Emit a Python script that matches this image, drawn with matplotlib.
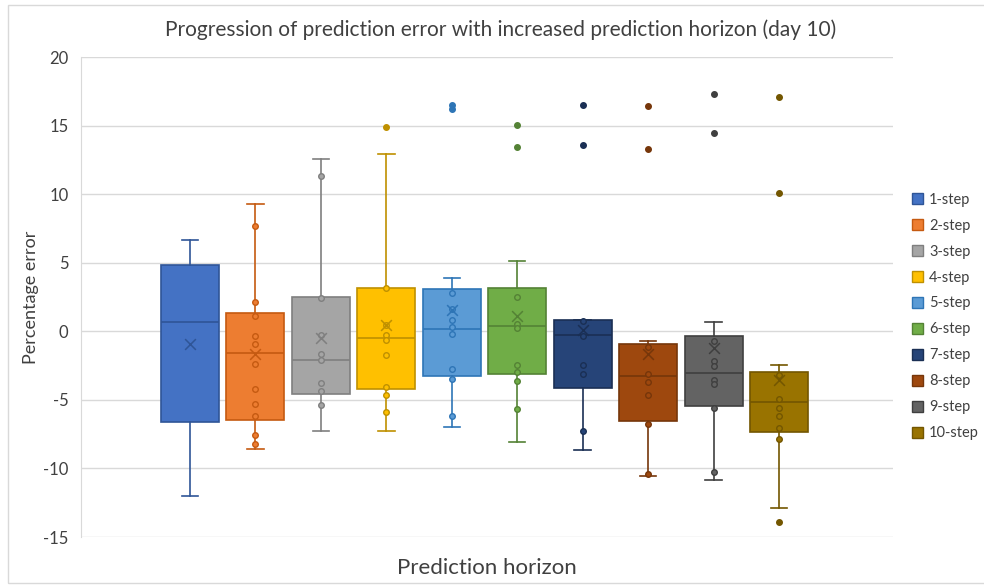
import matplotlib
matplotlib.use('Agg')

import matplotlib.pyplot as plt
from matplotlib.patches import Patch, Rectangle

plt.rcParams['font.family'] = ['Lato', 'DejaVu Sans']
plt.rcParams['axes.unicode_minus'] = False

labels = ['1-step', '2-step', '3-step', '4-step', '5-step',
          '6-step', '7-step', '8-step', '9-step', '10-step']

# box statistics per horizon
q1 = [-6.65, -6.49, -4.54, -4.23, -3.28, -3.11, -4.13, -6.53, -5.44, -7.31]
med = [0.66, -1.60, -2.11, -0.46, 0.17, 0.41, -0.24, -3.28, -3.04, -5.17]
q3 = [4.86, 1.36, 2.50, 3.18, 3.06, 3.13, 0.85, -0.92, -0.34, -2.99]
whislo = [-12.0, -8.58, -7.24, -7.24, -6.97, -8.09, -8.62, -10.57, -10.83, -12.85]
whishi = [6.63, 9.31, 12.59, 12.95, 3.89, 5.10, 0.85, -0.73, 0.70, -2.48]
means = [-0.90, -1.65, -0.49, 0.48, 1.53, 1.09, 0.12, -1.68, -1.21, -3.57]

# individual errors shown as inner points
inner_pts = [
    [],
    [7.65, 2.11, 1.12, -0.34, -0.90, -2.41, -4.23, -5.30, -6.15, -7.53, -8.19],
    [11.35, 2.45, -0.30, -1.63, -2.11, -3.76, -4.37, -5.35],
    [3.13, 0.48, -0.24, -0.60, -1.70, -4.03, -4.66, -5.90],
    [2.82, 1.60, 0.85, 0.31, -0.17, -2.75, -3.47, -6.20],
    [2.50, 0.56, 0.24, -2.43, -2.96, -3.60, -5.66],
    [0.73, -0.36, -2.43, -3.11, -7.26],
    [-1.12, -3.08, -3.67, -4.64, -6.73, -10.42],
    [-0.68, -2.16, -2.50, -3.52, -3.86, -5.61, -10.28],
    [-3.16, -4.91, -5.59, -6.17, -7.07, -7.85],
]

outliers = [
    [],
    [],
    [],
    [14.87],
    [16.47, 16.23],
    [15.04, 13.43],
    [16.52, 13.56],
    [16.42, 13.27],
    [17.30, 14.45],
    [17.06, 10.08, -13.92],
]

fills = ['#4472C4', '#ED7D31', '#A5A5A5', '#FFC000', '#5B9BD5',
         '#70AD47', '#264478', '#9E480E', '#636363', '#997300']
edges = ['#2F5597', '#C55A11', '#7F7F7F', '#BF9000', '#2E75B6',
         '#548235', '#1A2F54', '#76360A', '#3F3F3F', '#735600']

fig = plt.figure(figsize=(9.84, 5.85), dpi=100)
ax = fig.add_axes([81 / 984, 1 - 537 / 585, (893 - 81) / 984, (537 - 57) / 585])

# thin frame round the whole chart
fig.patches.append(Rectangle((8 / 984, 2 / 585), 1.0, 1 - 7 / 585, transform=fig.transFigure,
                             fill=False, edgecolor='#D9D9D9', linewidth=1))

pos = list(range(1, len(labels) + 1))
stats = []
for i in range(len(labels)):
    stats.append({'q1': q1[i], 'med': med[i], 'q3': q3[i],
                  'whislo': whislo[i], 'whishi': whishi[i],
                  'mean': means[i], 'fliers': []})

bp = ax.bxp(stats, positions=pos, widths=0.886, patch_artist=True,
            showmeans=False, showfliers=False, capwidths=0.25)

for i in range(len(labels)):
    bp['boxes'][i].set_facecolor(fills[i])
    bp['boxes'][i].set_edgecolor(edges[i])
    bp['boxes'][i].set_linewidth(1.2)
    bp['boxes'][i].set_zorder(2)
    bp['medians'][i].set_color(edges[i])
    bp['medians'][i].set_linewidth(1.2)
    for ln in bp['whiskers'][2 * i:2 * i + 2] + bp['caps'][2 * i:2 * i + 2]:
        ln.set_color(edges[i])
        ln.set_linewidth(1.2)

    # inner points and outliers
    xs = [pos[i]] * len(inner_pts[i])
    ax.scatter(xs, inner_pts[i], s=16, facecolor=fills[i], edgecolor=edges[i],
               linewidth=1.0, zorder=4)
    xo = [pos[i]] * len(outliers[i])
    ax.scatter(xo, outliers[i], s=16, facecolor=edges[i], edgecolor=edges[i],
               linewidth=1.0, zorder=4)
    # mean marker
    ax.scatter([pos[i]], [means[i]], marker='x', s=60, color=edges[i],
               linewidth=1.1, zorder=5)

ax.set_xlim(-0.666, 11.742)
ax.set_ylim(-15, 20)
ax.set_yticks(range(-15, 21, 5))
ax.set_xticks([])
ax.grid(axis='y', color='#D9D9D9', linewidth=1)
ax.set_axisbelow(True)
for side in ['top', 'right', 'bottom']:
    ax.spines[side].set_visible(False)
ax.spines['left'].set_color('#D9D9D9')
ax.tick_params(axis='y', length=0, pad=9, labelsize=12, labelcolor='#404040')

fig.text(501 / 984, 1 - 30 / 585,
         'Progression of prediction error with increased prediction horizon (day 10)',
         fontsize=15, color='#404040', ha='center', va='center')
fig.text(31 / 984, 1 - 297 / 585, 'Percentage error', fontsize=13, color='#404040',
         rotation=90, ha='center', va='center')
fig.text(487 / 984, 1 - 568 / 585, 'Prediction horizon', fontsize=16, color='#404040',
         ha='center', va='center')

handles = [Patch(facecolor=fills[i], edgecolor=edges[i], label=labels[i])
           for i in range(len(labels))]
fig.legend(handles=handles, loc='upper left', bbox_to_anchor=(900 / 984, 1 - 181 / 585),
           frameon=False, fontsize=10.5, labelcolor='#404040', handlelength=0.8,
           handleheight=0.8, handletextpad=0.4, labelspacing=0.82, borderpad=0.3)

fig.savefig('out.png', dpi=100)
